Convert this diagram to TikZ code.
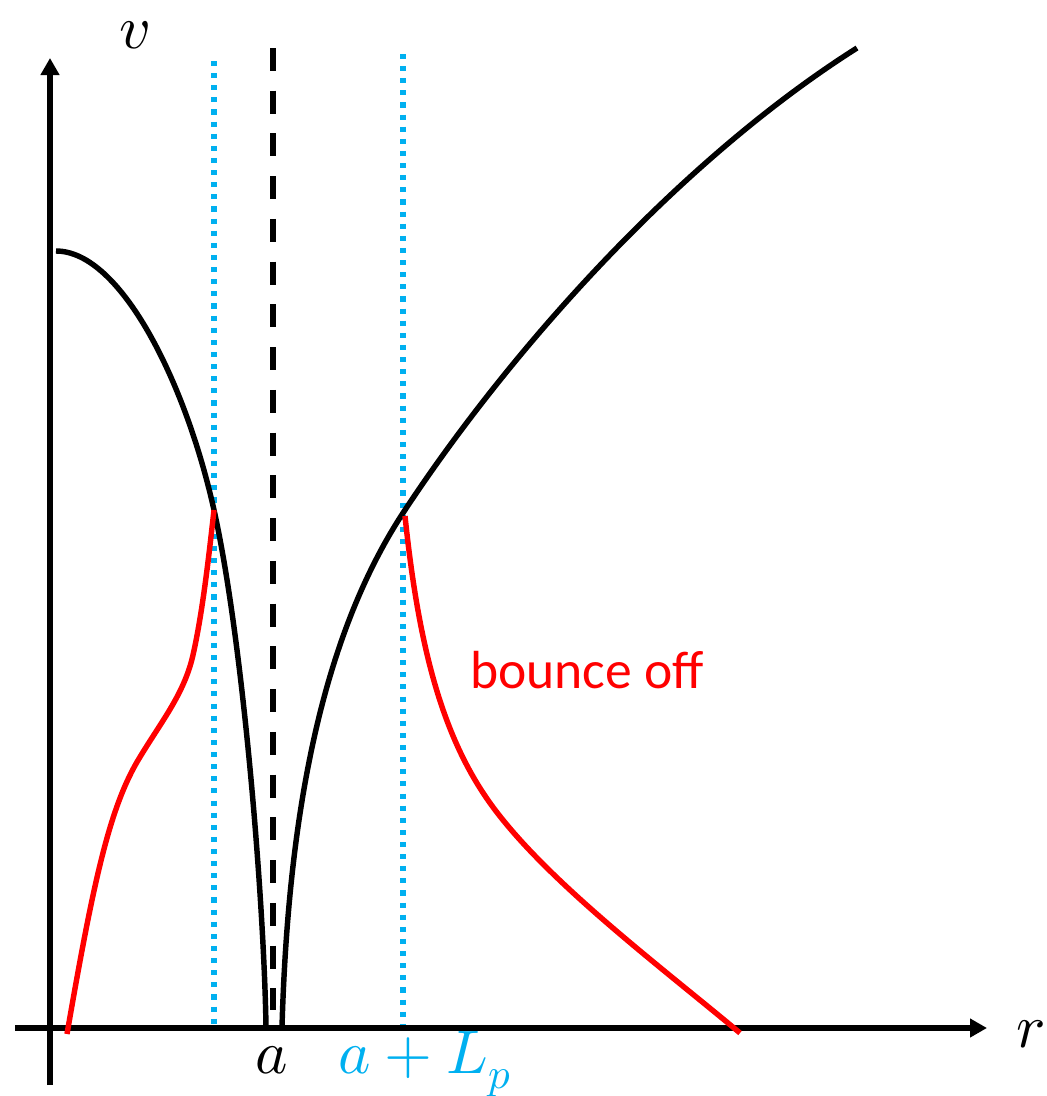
\documentclass[tikz,border=0pt]{standalone}
\usepackage{fontspec}
\usepackage{unicode-math}
\setmathfont{Latin Modern Math}
\newfontfamily\calibri{Carlito}
\usetikzlibrary{arrows.meta}
\definecolor{skyblue}{RGB}{0,176,240}

\begin{document}
\begin{tikzpicture}[x=0.02cm, y=-0.02cm,
  ax/.style={line width=3.3pt, -{Triangle[length=3.4mm, width=3.6mm]}},
  curve/.style={line width=3.1pt, black},
  bounce/.style={line width=3.1pt, red},
  vdash/.style={line width=3.3pt, dash pattern=on 0.46cm off 0.395cm},
  vdot/.style={line width=2.9pt, skyblue, dash pattern=on 2.9pt off 4.0pt},
  lbl/.style={font=\fontsize{35}{37}\selectfont, inner sep=0pt, anchor=base},
]
\useasboundingbox (0,0) rectangle (1046,1096);

% axes
\coordinate (o1) at (50,1085);
\coordinate (o2) at (15,1028);
\coordinate (vtip) at (50,58);
\coordinate (rtip) at (987,1028);
\draw[ax] (o1) -- (vtip);
\draw[ax] (o2) -- (rtip);
\node[lbl] (vlab) at (135,48) {$v$};
\node[lbl] (rlab) at (1031,1047) {$r$};

% vertical markers
\draw[vdash] (273,48) -- (273,1010);
\draw[vdot] (214,61) -- (214,1025);
\draw[vdot] (403,54) -- (403,1025);
\node[lbl] (alab) at (272,1073) {$a$};
\node[lbl, text=skyblue] (alp) at (425,1073) {$a+L_p$};

% black curves
\coordinate (top) at (56,251);
\coordinate (xl) at (214,510);
\coordinate (fl) at (266,1027);
\coordinate (fr) at (282,1027);
\coordinate (xr) at (403,513);
\coordinate (end) at (857,48);
\draw[curve] (top) .. controls (120,251) and (185,380) .. (xl)
                   .. controls (243,640) and (264,900) .. (fl);
\draw[curve] (fr) .. controls (288,820) and (320,640) .. (xr)
                  .. controls (510,350) and (680,160) .. (end);

% red curves
\coordinate (sl) at (67,1034);
\coordinate (kl) at (137,762);
\coordinate (ml) at (193,655);
\coordinate (sr) at (405,516);
\coordinate (kr) at (490,803);
\coordinate (er) at (740,1033);
\draw[bounce] (sl) .. controls (92,890) and (108,812) .. (kl)
                   .. controls (160,723) and (184,695) .. (ml)
                   .. controls (202,615) and (208,564) .. (xl);
\draw[bounce] (sr) .. controls (418,640) and (440,733) .. (kr)
                   .. controls (545,880) and (660,966) .. (er);
\node[font=\calibri\fontsize{30.5}{33}\selectfont, text=red, inner sep=0pt] (blab) at (587,670) {bounce off};
\end{tikzpicture}
\end{document}
